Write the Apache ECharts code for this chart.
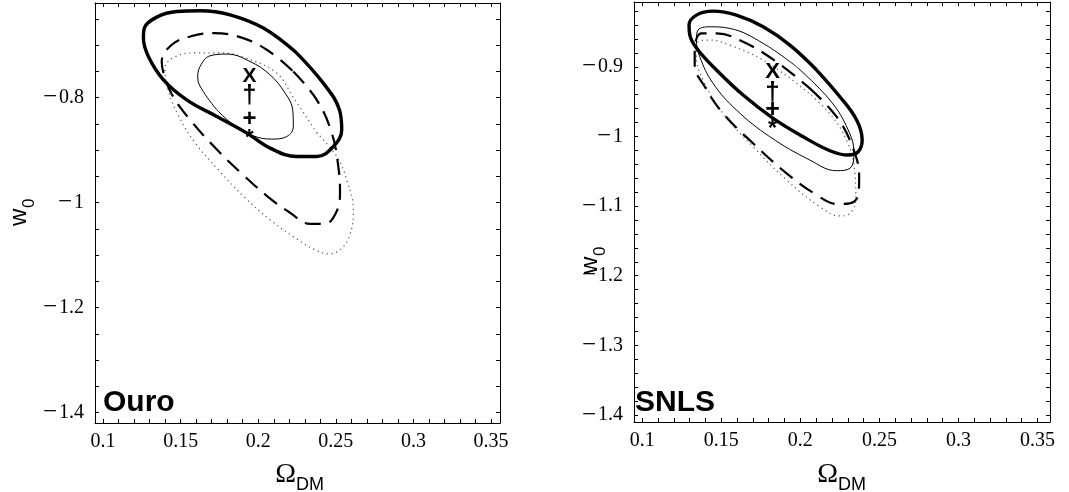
<!DOCTYPE html>
<html>
<head>
<meta charset="utf-8">
<script src="https://cdn.jsdelivr.net/npm/echarts@6/dist/echarts.min.js"></script>
<style>
html,body{margin:0;padding:0;background:#fff;}
#chart{width:1069px;height:492px;}
</style>
</head>
<body>
<div id="chart"></div>
<script>
// ---------- DATA ----------
// Panel 1: "Ouro"  (x = Omega_DM, y = w0)
const ouroThick = [[0.1266,-0.6678],[0.1346,-0.6469],[0.1475,-0.6362],[0.1625,-0.6349],[0.1818,-0.6425],[0.2033,-0.6678],[0.2248,-0.7154],[0.2419,-0.7726],[0.2523,-0.8234],[0.2538,-0.8615],[0.2484,-0.8933],[0.2377,-0.9124],[0.2248,-0.9124],[0.2076,-0.8964],[0.1926,-0.8678],[0.1733,-0.8362],[0.1539,-0.8044],[0.1389,-0.7663],[0.1292,-0.7219],[0.1260,-0.6869]];
const ouroDashed = [[0.1378,-0.7314],[0.1443,-0.6996],[0.1561,-0.6838],[0.1711,-0.6773],[0.1883,-0.6850],[0.2055,-0.7091],[0.2226,-0.7505],[0.2377,-0.8044],[0.2474,-0.8678],[0.2516,-0.9314],[0.2527,-0.9815],[0.2501,-1.0196],[0.2430,-1.0406],[0.2334,-1.0406],[0.2205,-1.0196],[0.2055,-0.9872],[0.1902,-0.9472],[0.1735,-0.8996],[0.1561,-0.8425],[0.1445,-0.7949],[0.1393,-0.7568]];
const ouroThin = [[0.1625,-0.7410],[0.1610,-0.7630],[0.1646,-0.7886],[0.1733,-0.8234],[0.1840,-0.8520],[0.1968,-0.8730],[0.2087,-0.8792],[0.2184,-0.8743],[0.2226,-0.8552],[0.2222,-0.8234],[0.2173,-0.7916],[0.2076,-0.7568],[0.1947,-0.7314],[0.1797,-0.7173],[0.1689,-0.7206]];
const ouroDotted = [[0.1399,-0.7434],[0.1464,-0.7225],[0.1593,-0.7149],[0.1754,-0.7149],[0.1915,-0.7244],[0.2119,-0.7535],[0.2224,-0.7987],[0.2377,-0.8672],[0.2506,-0.9124],[0.2570,-0.9568],[0.2613,-1.0139],[0.2591,-1.0615],[0.2527,-1.0901],[0.2450,-1.0977],[0.2366,-1.0901],[0.2237,-1.0672],[0.2076,-1.0330],[0.1915,-0.9910],[0.1754,-0.9415],[0.1593,-0.8863],[0.1483,-0.8330],[0.1419,-0.7853]];
const ouroMarkers = [{glyph:'X', x:0.1943, y:-0.760},{glyph:'†', x:0.1943, y:-0.798},{glyph:'+', x:0.1943, y:-0.8425},{glyph:'*', x:0.1943, y:-0.868}];

// Panel 2: "SNLS"
const snlsThick = [[0.1296,-0.8402],[0.1343,-0.8258],[0.1448,-0.8201],[0.1596,-0.8258],[0.1765,-0.8426],[0.1934,-0.8689],[0.2103,-0.9047],[0.2250,-0.9430],[0.2356,-0.9765],[0.2391,-1.0052],[0.2366,-1.0220],[0.2303,-1.0267],[0.2187,-1.0205],[0.2018,-1.0004],[0.1828,-0.9740],[0.1638,-0.9406],[0.1470,-0.9047],[0.1353,-0.8760],[0.1301,-0.8545]];
const snlsDashed = [[0.1332,-0.8760],[0.1375,-0.8521],[0.1470,-0.8521],[0.1638,-0.8641],[0.1849,-0.8928],[0.2060,-0.9310],[0.2229,-0.9717],[0.2330,-1.0148],[0.2372,-1.0578],[0.2366,-1.0841],[0.2313,-1.0960],[0.2229,-1.0970],[0.2103,-1.0841],[0.1913,-1.0529],[0.1701,-1.0099],[0.1511,-0.9669],[0.1396,-0.9287],[0.1332,-0.8976]];
const snlsThin = [[0.1353,-0.8473],[0.1427,-0.8426],[0.1554,-0.8449],[0.1765,-0.8664],[0.1976,-0.9000],[0.2187,-0.9478],[0.2303,-0.9908],[0.2339,-1.0242],[0.2313,-1.0458],[0.2229,-1.0492],[0.2060,-1.0339],[0.1807,-1.0004],[0.1596,-0.9621],[0.1448,-0.9238],[0.1364,-0.8857],[0.1343,-0.8617]];
const snlsDotted = [[0.1353,-0.8641],[0.1427,-0.8617],[0.1554,-0.8689],[0.1765,-0.8904],[0.1976,-0.9238],[0.2166,-0.9621],[0.2292,-1.0052],[0.2345,-1.0529],[0.2351,-1.0912],[0.2313,-1.1103],[0.2250,-1.1142],[0.2123,-1.1009],[0.1913,-1.0626],[0.1701,-1.0148],[0.1511,-0.9669],[0.1385,-0.9191],[0.1343,-0.8857]];
const snlsMarkers = [{glyph:'X', x:0.1824, y:-0.9072},{glyph:'†', x:0.1824, y:-0.938},{glyph:'+', x:0.1824, y:-0.962},{glyph:'*', x:0.1824, y:-0.9837}];

// Axis ranges and tick labels
const ouroXRange = [0.0948, 0.3558];
const ouroYRange = [-1.42, -0.62];
const snlsXRange = [0.0948, 0.3579];
const snlsYRange = [-1.41, -0.807];
const xTickLabels = [0.1, 0.15, 0.2, 0.25, 0.3, 0.35];
const ouroYTickLabels = [-1.4, -1.2, -1, -0.8];
const snlsYTickLabels = [-1.4, -1.3, -1.2, -1.1, -1, -0.9];
const panelNames = ['Ouro', 'SNLS'];
const xName = ['Ω', 'DM'];
const yName = ['w', '0'];

// ---------- CHART ----------
const chart = echarts.init(document.getElementById('chart'), null, {renderer:'canvas'});
const SERIF = 'Liberation Serif';
const SANS = 'Liberation Sans';

function fmt(labels) {
  return function (v) {
    for (const l of labels) {
      if (Math.abs(v - l) < 1e-7) return l < 0 ? '{m|\u2212}{n|' + String(-l) + '}' : String(l);
    }
    return '';
  };
}
const labelRich = {
  m:{fontFamily:SERIF, fontSize:25, color:'#000', padding:[0,2,0,0], verticalAlign:'middle', lineHeight:24},
  n:{fontFamily:SERIF, fontSize:20, color:'#000', verticalAlign:'middle', lineHeight:24}
};
// close a contour, starting the path at index k (a low-curvature spot)
function closeFrom(a, k) { return a.slice(k).concat(a.slice(0, k + 1)); }

const grids = [
  {left:95, top:3, width:405, height:420},
  {left:634, top:2, width:416, height:420}
];

function xAx(g, range, split, labels, pos) {
  return {
    type:'value', gridIndex:g, position:pos, min:range[0], max:range[1], splitNumber:split,
    axisLine:{show:true, onZero:false, lineStyle:{color:'#000', width:1}},
    axisTick:{show:true, inside:true, length:4, lineStyle:{color:'#000', width:1}},
    splitLine:{show:false}, minorTick:{show:false},
    axisLabel:{show: pos === 'bottom', formatter: fmt(labels), color:'#000', fontFamily:SERIF, fontSize:20, margin:9, showMinLabel:true, showMaxLabel:true}
  };
}
function yAx(g, range, split, labels, pos) {
  return {
    type:'value', gridIndex:g, position:pos, min:range[0], max:range[1], splitNumber:split,
    axisLine:{show:true, onZero:false, lineStyle:{color:'#000', width:1}},
    axisTick:{show:true, inside:true, length:4, lineStyle:{color:'#000', width:1}},
    splitLine:{show:false}, minorTick:{show:false},
    axisLabel:{show: pos === 'left', formatter: fmt(labels), rich: labelRich, color:'#000', fontFamily:SERIF, fontSize:20, margin:11, showMinLabel:true, showMaxLabel:true}
  };
}

const xAxes = [
  xAx(0, ouroXRange, 26, xTickLabels, 'bottom'),
  xAx(0, ouroXRange, 26, xTickLabels, 'top'),
  xAx(1, snlsXRange, 26, xTickLabels, 'bottom'),
  xAx(1, snlsXRange, 26, xTickLabels, 'top')
];
const yAxes = [
  yAx(0, ouroYRange, 16, ouroYTickLabels, 'left'),
  yAx(0, ouroYRange, 16, ouroYTickLabels, 'right'),
  yAx(1, snlsYRange, 30, snlsYTickLabels, 'left'),
  yAx(1, snlsYRange, 30, snlsYTickLabels, 'right')
];

const styles = {
  thick: {color:'#000', width:3.4, type:'solid'},
  dashed: {color:'#000', width:2.2, type:[16, 9]},
  thin: {color:'#000', width:1, type:'solid'},
  dotted: {color:'#555', width:1.2, type:[1.2, 3.6]}
};

function contour(data, k, style, xi, yi) {
  return {
    type:'line', xAxisIndex:xi, yAxisIndex:yi, data: closeFrom(data, k),
    symbol:'none', smooth:0.4, lineStyle: styles[style], silent:true, z: style === 'thick' ? 4 : 3
  };
}
const markerFont = {
  'X':{size:21, weight:'bold', dy:0},
  '†':{size:25, weight:'bold', dy:0},
  '+':{size:24, weight:'bold', dy:0},
  '*':{size:22, weight:'bold', dy:5}
};
function markers(list, xi, yi, scale) {
  return {
    type:'scatter', xAxisIndex:xi, yAxisIndex:yi, symbolSize:0, z:6,
    itemStyle:{color:'#000', opacity:1},
    data: list.map(m => ({value:[m.x, m.y],
      label:{show:true, position:'inside', formatter:m.glyph, color:'#000', opacity:1, fontFamily:SANS,
        offset:[0, markerFont[m.glyph].dy],
        fontSize:Math.round(markerFont[m.glyph].size * scale), fontWeight:markerFont[m.glyph].weight}}))
  };
}

const series = [
  contour(ouroDotted, 7, 'dotted', 0, 0),
  contour(ouroDashed, 6, 'dashed', 0, 0),
  contour(ouroThin, 3, 'thin', 0, 0),
  contour(ouroThick, 6, 'thick', 0, 0),
  markers(ouroMarkers, 0, 0, 1),
  contour(snlsDotted, 4, 'dotted', 2, 2),
  contour(snlsDashed, 5, 'dashed', 2, 2),
  contour(snlsThin, 4, 'thin', 2, 2),
  contour(snlsThick, 6, 'thick', 2, 2),
  markers(snlsMarkers, 2, 2, 1.05)
];

function xTitle(cx) {
  return {type:'group', children:[
    {type:'text', x:cx, y:489, style:{text:xName[0], font:'28px ' + SERIF, fill:'#000', textAlign:'right', textVerticalAlign:'bottom'}},
    {type:'text', x:cx, y:494, style:{text:xName[1], font:'18px ' + SANS, fill:'#000', textAlign:'left', textVerticalAlign:'bottom'}}
  ]};
}
function yTitle(x, y) {
  return {type:'group', x:x, y:y, rotation:Math.PI/2, children:[
    {type:'text', x:0, y:0, style:{text:yName[0], font:'24px ' + SANS, fill:'#000', textAlign:'left', textVerticalAlign:'bottom'}},
    {type:'text', x:18, y:7, style:{text:yName[1], font:'17px ' + SANS, fill:'#000', textAlign:'left', textVerticalAlign:'bottom'}}
  ]};
}

const graphic = [
  {type:'text', x:103, y:418, style:{text:panelNames[0], font:'bold 30px ' + SANS, fill:'#000', textAlign:'left', textVerticalAlign:'bottom'}, z:10},
  {type:'text', x:635, y:418, style:{text:panelNames[1], font:'bold 30px ' + SANS, fill:'#000', textAlign:'left', textVerticalAlign:'bottom'}, z:10},
  xTitle(296),
  xTitle(838),
  yTitle(31, 226),
  yTitle(602, 274)
];

chart.setOption({
  animation:false,
  backgroundColor:'#fff',
  grid: grids,
  xAxis: xAxes,
  yAxis: yAxes,
  series: series,
  graphic: graphic
});
</script>
</body>
</html>
